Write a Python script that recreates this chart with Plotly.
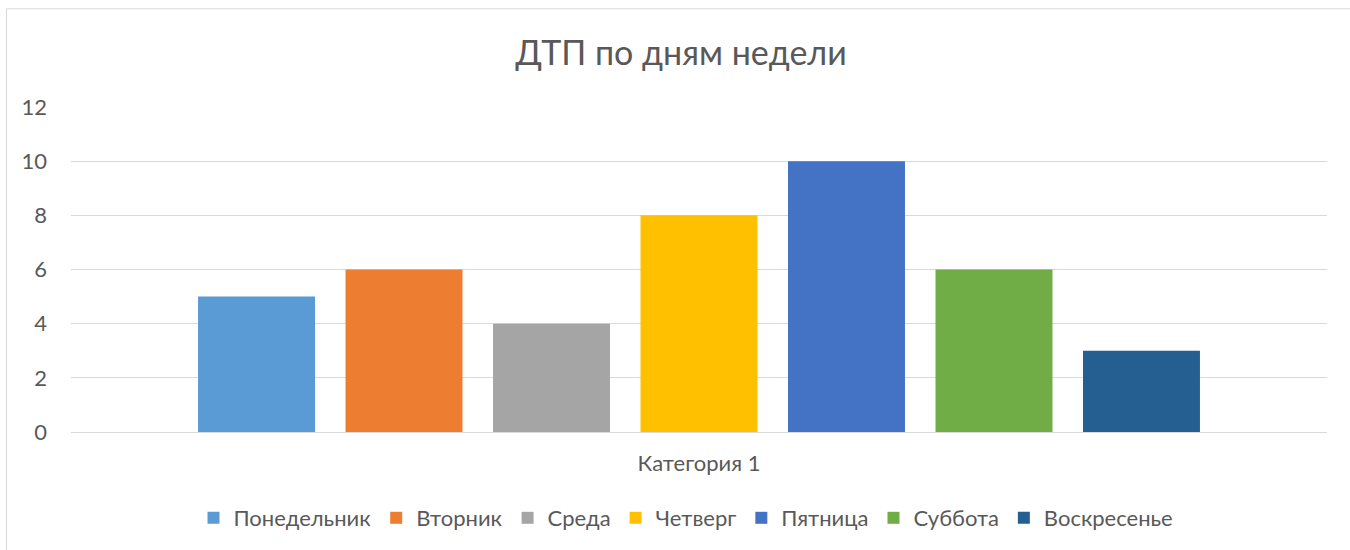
import plotly.graph_objects as go

categories = ["Категория 1"]
days = ["Понедельник", "Вторник", "Среда", "Четверг", "Пятница", "Суббота", "Воскресенье"]
values = [5, 6, 4, 8, 10, 6, 3]
colors = ["#5B9BD5", "#ED7D31", "#A5A5A5", "#FFC000", "#4472C4", "#70AD47", "#255E91"]
y_ticks = [0, 2, 4, 6, 8, 10, 12]

FONT = "Lato"
TXT = "#595959"

fig = go.Figure()
for d, v, c in zip(days, values, colors):
    fig.add_trace(go.Bar(name=d, x=categories, y=[v], marker=dict(color=c, line=dict(width=0))))

W, H = 1350, 550
L, R, T, B = 71, 23, 107, 117
pw, ph = W - L - R, H - T - B

def px2x(p):
    return (p - L) / pw

def py2y(p):
    return (H - B - p) / ph

fig.update_layout(
    width=W, height=H,
    margin=dict(l=L, r=R, t=T, b=B),
    paper_bgcolor="white", plot_bgcolor="white",
    barmode="group", bargap=0.178, bargroupgap=0.207,
    title=dict(text="ДТП по дням недели", x=px2x(681), xref="paper", xanchor="center",
               y=1 - 53 / H, yanchor="middle",
               font=dict(family=FONT, size=34, color=TXT)),
    font=dict(family=FONT, size=22, color=TXT),
    xaxis=dict(showgrid=False, showline=False, ticks="", ticklabelstandoff=16,
               tickfont=dict(size=22, color=TXT)),
    yaxis=dict(range=[0, 12], tickvals=y_ticks, showgrid=True, gridcolor="#d9d9d9", gridwidth=1,
               zeroline=True, zerolinecolor="#d9d9d9", zerolinewidth=1,
               showline=False, ticks="", ticklabelstandoff=23,
               tickfont=dict(size=22, color=TXT)),
    legend=dict(orientation="h", x=px2x(686), xanchor="center", y=py2y(518), yanchor="middle",
                font=dict(size=22, color=TXT), itemclick=False, traceorder="normal"),
    showlegend=True,
    shapes=[dict(type="rect", xref="paper", yref="paper",
                 x0=px2x(6.5), x1=px2x(1360), y0=py2y(560), y1=py2y(8.5),
                 line=dict(color="#d9d9d9", width=1), fillcolor="rgba(0,0,0,0)", layer="below")],
)

fig.write_html("out.html", config={"displayModeBar": False},
               post_script="document.body.style.margin='0';")
